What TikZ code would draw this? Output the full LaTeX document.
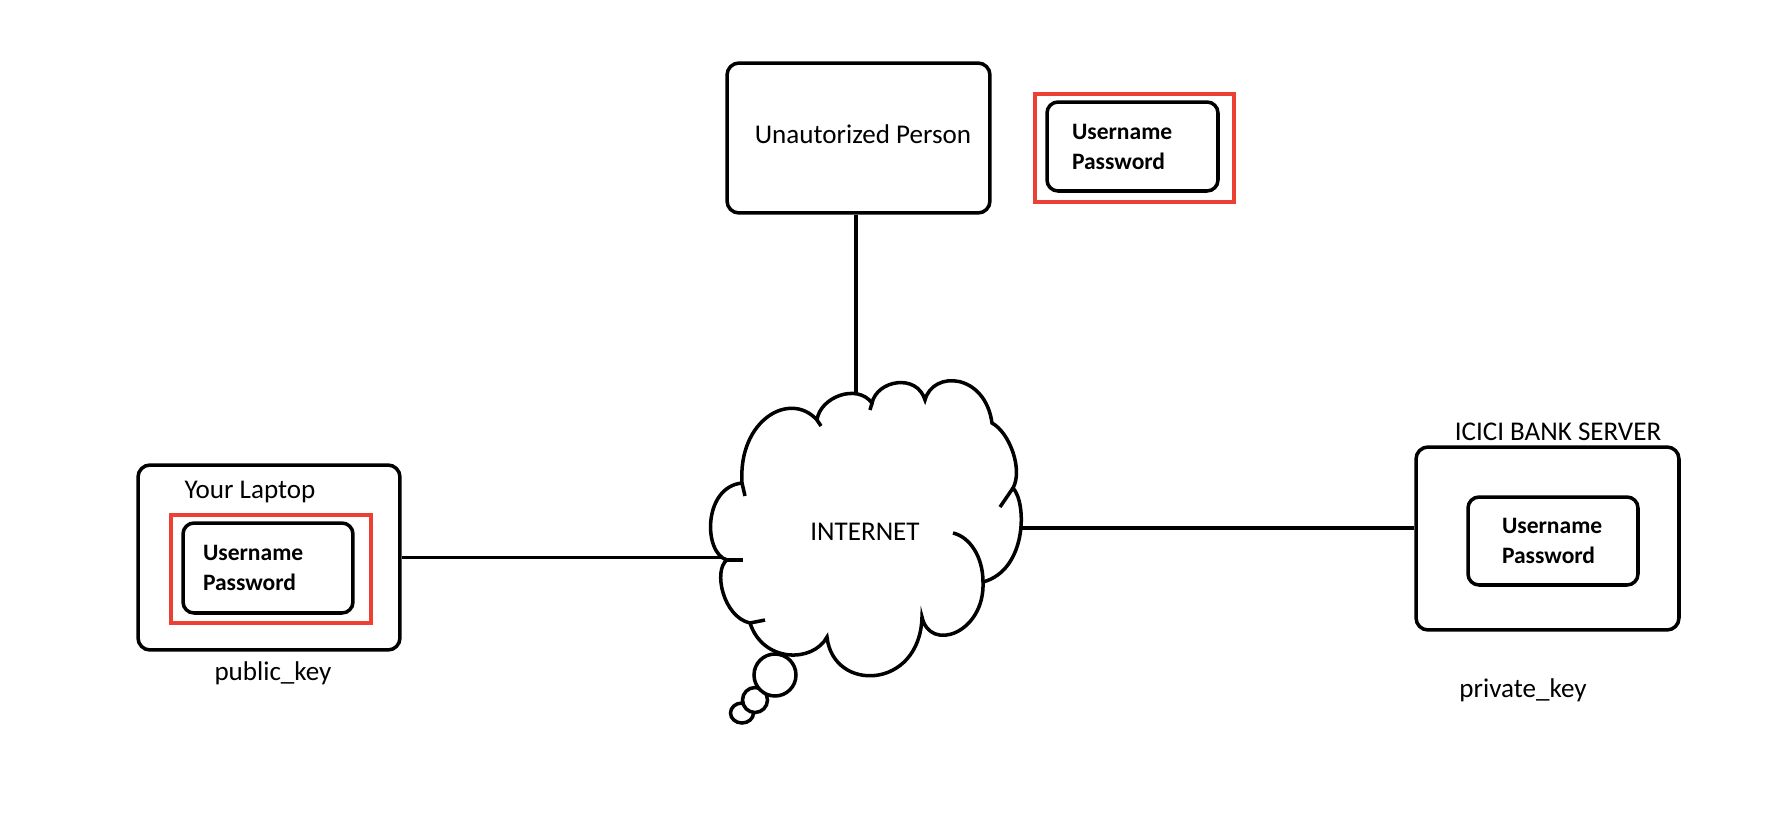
\documentclass[tikz,border=0pt]{standalone}
\usepackage{fontspec}
\setmainfont{Carlito}
\usetikzlibrary{positioning}
\definecolor{keyred}{RGB}{236,64,52}
\tikzset{
	machine/.style={draw, line width=2pt, rounded corners=0.24cm, inner sep=0pt},
	credbox/.style={draw, line width=2pt, rounded corners=0.22cm, align=left, inner sep=0pt, fill=white,
		font=\fontsize{13.4}{17.1}\selectfont\bfseries},
	redframe/.style={draw=keyred, line width=1.9pt, inner sep=0pt},
	caption/.style={font=\fontsize{15.4}{18}\selectfont, inner sep=0pt},
	wire/.style={line width=2pt},
}

\begin{document}
\begin{tikzpicture}[x=0.02cm, y=-0.02cm]
	\useasboundingbox (0,0) rectangle (1792,829);

	%MACHINES
	\node[machine, minimum width=5.24cm, minimum height=3.7cm] (laptop) at (269,557.5) {};
	\node[caption] (laptopname) at (250,492) {Your Laptop};
	\node[caption] (pubkey) at (273,673) {public\_key};
	%
	\node[machine, minimum width=5.26cm, minimum height=3cm, caption] (person) at (858.5,138) {\hspace{0.18cm}\raisebox{0.14cm}{Unautorized Person}};
	%
	\node[machine, minimum width=5.26cm, minimum height=3.66cm] (server) at (1547.5,538.5) {};
	\node[caption] (servername) at (1558,432) {ICICI BANK SERVER};
	\node[caption] (privkey) at (1523,690) {private\_key};

	%CREDENTIALS
	\node[redframe, minimum width=4cm, minimum height=2.16cm] (laptopred) at (271,569) {};
	\node[credbox, minimum width=3.4cm, minimum height=1.8cm, text width=2.6cm] (laptopcred) at (268,568) {Username\\Password};
	%
	\node[redframe, minimum width=3.98cm, minimum height=2.16cm] (stolenred) at (1134.5,148) {};
	\node[credbox, minimum width=3.42cm, minimum height=1.78cm, text width=2.42cm] (stolencred) at (1132.5,146.5) {Username\\Password};
	%
	\node[credbox, minimum width=3.4cm, minimum height=1.76cm, text width=2.04cm] (servercred) at (1553,541) {Username\\Password};

	%WIRES (cloud is drawn over their ends)
	\coordinate (cloudW) at (745,557.5);
	\coordinate (cloudE) at (990,528);
	\coordinate (cloudN) at (856,430);
	\draw[wire] (laptop.east) -- (cloudW);
	\draw[wire] (cloudE) -- (cloudE -| server.west);
	\draw[wire] (cloudN |- person.south) -- (cloudN);

	%CLOUD
	\draw[wire, fill=white] (742,713) ellipse [x radius=0.23cm, y radius=0.2cm];
	\draw[wire, fill=white] (755,700) circle [radius=0.25cm];
	\draw[wire, fill=white] (775,675) circle [radius=0.42cm];
	\draw[wire, fill=white] (742,483) .. controls (738,420) and (790,390) .. (817,420)
		.. controls (820,397) and (857,383) .. (872,403)
		.. controls (877,380) and (917,373) .. (925,400)
		.. controls (933,370) and (985,373) .. (992,423)
		.. controls (1010,433) and (1023,470) .. (1013,488)
		.. controls (1027,503) and (1027,570) .. (983,582)
		.. controls (985,633) and (930,653) .. (922,617)
		.. controls (920,690) and (833,693) .. (827,637)
		.. controls (813,663) and (763,663) .. (750,623)
		.. controls (723,617) and (713,570) .. (727,560)
		.. controls (703,553) and (703,487) .. (742,483) -- cycle;
	% little tails inside the puffs
	\draw[wire] (742,483) -- (745,496);
	\draw[wire] (817,420) -- (821,426);
	\draw[wire] (872,403) -- (870,410);
	\draw[wire] (1013,488) -- (1000,507);
	\draw[wire] (983,582) .. controls (983,557) and (970,537) .. (953,533);
	\draw[wire] (750,623) -- (765,620);
	\draw[wire] (727,560) -- (743,560);
	\node[caption] (internet) at (865,532) {INTERNET};
\end{tikzpicture}
\end{document}
